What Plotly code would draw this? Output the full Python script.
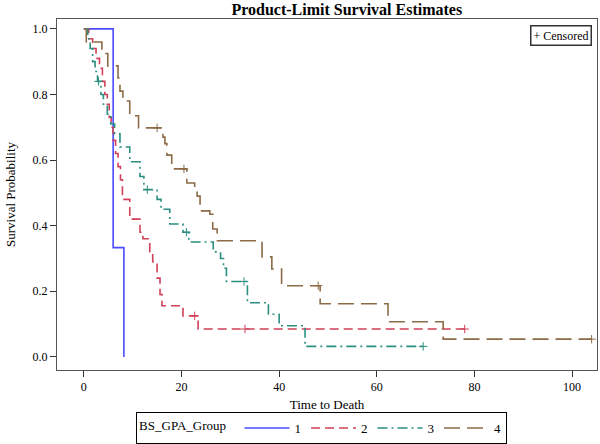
import plotly.graph_objects as go

# ---- data ----
g1_t = [0, 6.0, 8.2]
g1_s = [1.0, 0.333, 0.0]
g1_end = 8.2
g1_cens = []

g2_t = [0, 1.0, 1.8, 2.5, 3.2, 3.8, 4.3, 4.8, 5.2, 5.6, 6.0, 6.5, 7.0, 7.5, 7.9,
        9.4, 11.5, 12.1, 13.5, 14.1, 15.0, 15.6, 16.0, 20.3, 23.4]
g2_s = [1.0, 0.97, 0.94, 0.91, 0.88, 0.84, 0.80, 0.77, 0.73, 0.70, 0.66, 0.62, 0.58, 0.54, 0.48,
        0.42, 0.38, 0.36, 0.32, 0.29, 0.24, 0.19, 0.156, 0.125, 0.085]
g2_end = 78.0
g2_cens = [22.7, 33.0, 78.0]

g3_t = [0, 0.8, 1.3, 1.8, 2.3, 2.8, 3.5, 4.0, 4.8, 5.5, 6.3, 7.4, 9.4, 11.5, 12.3, 15.0, 15.8,
        17.6, 20.3, 21.5, 26.5, 28.0, 28.6, 29.2, 33.5, 37.8, 40.0, 45.3]
g3_s = [1.0, 0.97, 0.94, 0.90, 0.87, 0.84, 0.80, 0.77, 0.74, 0.71, 0.68, 0.64, 0.595, 0.55, 0.51,
        0.48, 0.45, 0.405, 0.38, 0.35, 0.32, 0.30, 0.27, 0.23, 0.165, 0.13, 0.095, 0.032]
g3_end = 69.5
g3_cens = [3.0, 13.0, 21.0, 32.8, 69.5]

g4_t = [0, 0.5, 3.7, 4.9, 7.0, 7.4, 8.0, 9.4, 11.2, 16.2, 16.6, 17.0, 18.0, 21.1, 22.7, 23.2,
        23.8, 25.8, 26.4, 27.3, 36.5, 38.5, 40.5, 48.4, 62.3, 73.6]
g4_s = [1.0, 0.96, 0.925, 0.887, 0.85, 0.81, 0.78, 0.735, 0.698, 0.67, 0.65, 0.615, 0.573, 0.53,
        0.51, 0.49, 0.445, 0.435, 0.39, 0.354, 0.305, 0.268, 0.217, 0.162, 0.107, 0.054]
g4_end = 104.0
g4_cens = [15.0, 20.5, 48.0, 104.0]

groups = ["1", "2", "3", "4"]
colors = ["#4a4aff", "#d04058", "#2a8f80", "#8c6b47"]
dashes = ["solid", "9px,5px", "10px,4px,2px,4px", "16px,7px"]

x_ticks = [0, 20, 40, 60, 80, 100]
y_ticks = [0.0, 0.2, 0.4, 0.6, 0.8, 1.0]
y_labels = ["0.0", "0.2", "0.4", "0.6", "0.8", "1.0"]

series = [
    (g1_t, g1_s, g1_end, g1_cens),
    (g2_t, g2_s, g2_end, g2_cens),
    (g3_t, g3_s, g3_end, g3_cens),
    (g4_t, g4_s, g4_end, g4_cens),
]


def surv_at(ts, ss, t):
    val = ss[0]
    for ti, si in zip(ts, ss):
        if ti <= t:
            val = si
    return val


FONT = "Liberation Serif"
fig = go.Figure()
for name, col, dsh, (ts, ss, end, cens) in zip(groups, colors, dashes, series):
    xs = list(ts)
    ys = list(ss)
    if end > xs[-1]:
        xs.append(end)
        ys.append(ss[-1])
    fig.add_trace(go.Scatter(
        x=xs, y=ys, mode="lines", name=name,
        line=dict(color=col, width=1.6, dash=dsh, shape="hv"),
        legendgroup=name,
    ))
    if cens:
        fig.add_trace(go.Scatter(
            x=cens, y=[surv_at(ts, ss, c) for c in cens], mode="markers",
            marker=dict(symbol="cross-thin", size=6, line=dict(color=col, width=1), color=col),
            showlegend=False, legendgroup=name, hoverinfo="skip",
        ))

fig.update_layout(
    width=600, height=444,
    margin=dict(l=57, r=3, t=19, b=74, autoexpand=False),
    paper_bgcolor="white", plot_bgcolor="white",
    font=dict(family=FONT, size=12, color="black"),
    title=dict(text="<b>Product-Limit Survival Estimates</b>", x=0.578, xref="container",
               xanchor="center", y=1 - 9 / 444, yref="container", yanchor="middle",
               font=dict(family=FONT, size=16, color="black")),
    xaxis=dict(range=[-5.5, 105.1], tickvals=x_ticks, ticks="outside", ticklen=6,
               tickcolor="#333", showgrid=False, zeroline=False, showline=True,
               linecolor="#555", linewidth=1, mirror=True, automargin=False,
               title=dict(text="Time to Death", font=dict(family=FONT, size=13), standoff=6),
               tickfont=dict(family=FONT, size=12)),
    yaxis=dict(range=[-0.04, 1.03], tickvals=y_ticks, ticktext=y_labels,
               ticks="outside", ticklen=6, tickcolor="#333", showgrid=False, zeroline=False,
               showline=True, linecolor="#555", linewidth=1, mirror=True, automargin=False,
               title=dict(text="Survival Probability", font=dict(family=FONT, size=13), standoff=14),
               tickfont=dict(family=FONT, size=12)),
    legend=dict(orientation="h", x=0.49, xanchor="center", y=-0.211, yanchor="bottom",
                bordercolor="black", borderwidth=1, bgcolor="white",
                title=dict(text="BS_GPA_Group  ", side="left", font=dict(family=FONT, size=13)),
                font=dict(family=FONT, size=13), itemwidth=45, tracegroupgap=0),
    showlegend=True,
)

fig.add_annotation(text="+ Censored", xref="paper", yref="paper", x=0.99, y=0.982,
                   xanchor="right", yanchor="top", showarrow=False,
                   font=dict(family=FONT, size=12, color="black"),
                   bordercolor="#333", borderwidth=1.5, borderpad=2, bgcolor="white")

fig.write_html("out.html", config={"displayModeBar": False},
               post_script="document.body.style.margin='0';")
